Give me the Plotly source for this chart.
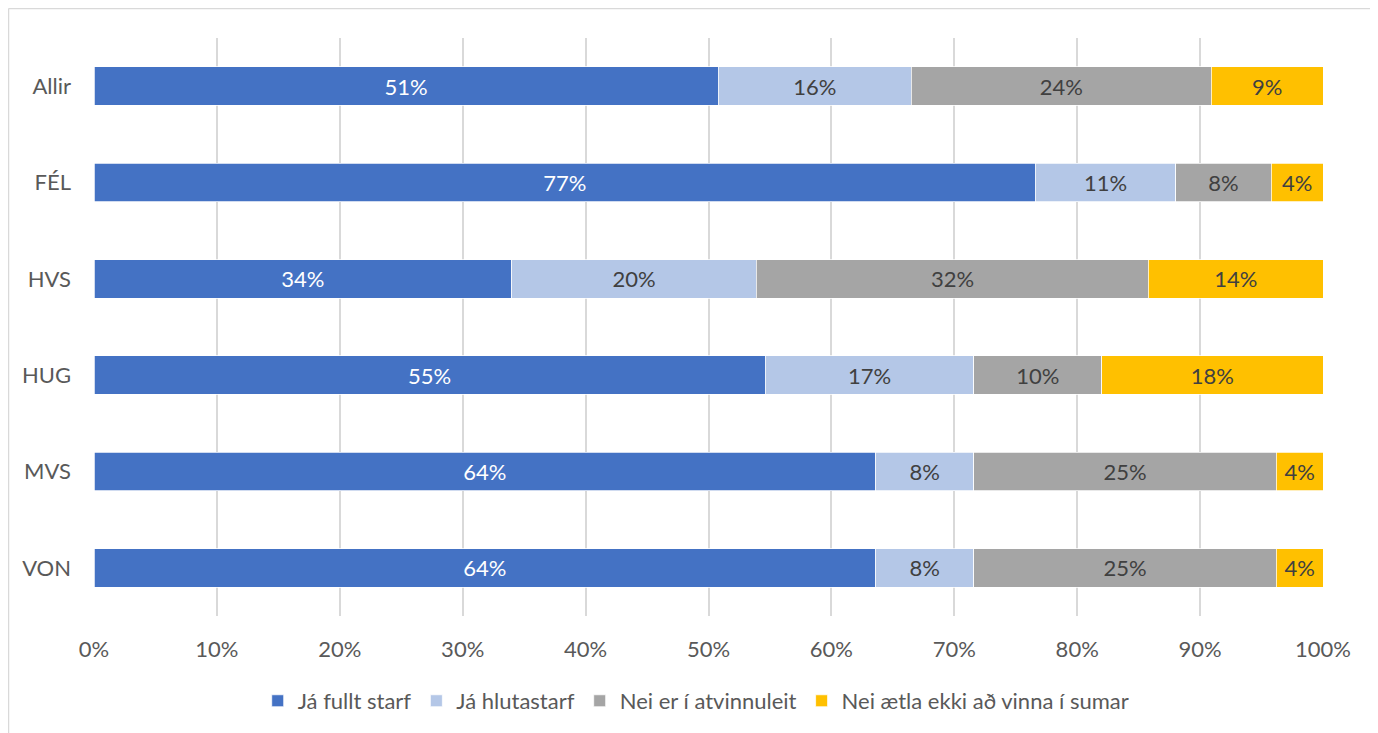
import plotly.graph_objects as go

# categories top to bottom
groups = ["Allir", "FÉL", "HVS", "HUG", "MVS", "VON"]

series_names = ["Já fullt starf", "Já hlutastarf", "Nei er í atvinnuleit", "Nei ætla ekki að vinna í sumar"]
fullt = [50.8, 76.6, 34.0, 54.6, 63.6, 63.6]
hluta = [15.7, 11.4, 19.9, 17.0, 8.0, 8.0]
atvinnuleit = [24.4, 7.8, 31.9, 10.4, 24.6, 24.6]
ekki = [9.1, 4.2, 14.2, 18.0, 3.8, 3.8]

tick_vals = [0, 10, 20, 30, 40, 50, 60, 70, 80, 90, 100]
tick_text = ["0%", "10%", "20%", "30%", "40%", "50%", "60%", "70%", "80%", "90%", "100%"]

colors = ["#4472C4", "#B4C7E7", "#A5A5A5", "#FFC000"]
label_colors = ["#FFFFFF", "#404040", "#404040", "#404040"]

fig = go.Figure()

for name, vals, col, lcol in zip(series_names, [fullt, hluta, atvinnuleit, ekki], colors, label_colors):
    fig.add_trace(
        go.Bar(
            x=vals,
            y=groups,
            name=name,
            orientation="h",
            marker={"color": col, "line": {"color": "#FFFFFF", "width": 0.75}},
            texttemplate="%{x:.0f}%",
            textposition="inside",
            insidetextanchor="middle",
            textangle=0,
            textfont={"color": lcol, "size": 22, "family": "Lato, sans-serif"},
        )
    )

# chart frame (only left and top edges are visible in the crop)
frame_x = (0.5 - 86) / 1229
frame_y = (609 - 0.5) / 579
fig.add_shape(type="line", xref="paper", yref="paper", x0=frame_x, x1=frame_x, y0=-1, y1=frame_y,
              line={"color": "#D9D9D9", "width": 1.5})
fig.add_shape(type="line", xref="paper", yref="paper", x0=frame_x, x1=2, y0=frame_y, y1=frame_y,
              line={"color": "#D9D9D9", "width": 1.5})

# page has an 8px body margin, so the figure is a little smaller than the window
fig.update_layout(
    width=1370,
    height=725,
    barmode="stack",
    bargap=0.6,
    margin={"l": 86, "r": 55, "t": 30, "b": 116},
    paper_bgcolor="#FFFFFF",
    plot_bgcolor="#FFFFFF",
    font={"family": "Lato, sans-serif", "size": 22, "color": "#595959"},
    showlegend=True,
    legend={
        "orientation": "h",
        "x": 0.49,
        "xanchor": "center",
        "y": -0.145,
        "yanchor": "middle",
        "font": {"size": 22, "color": "#595959"},
        "itemwidth": 30,
        "traceorder": "normal",
    },
)

fig.update_xaxes(
    range=[0, 100],
    tickvals=tick_vals,
    ticktext=tick_text,
    showgrid=True,
    gridcolor="#D9D9D9",
    gridwidth=1.5,
    zeroline=False,
    showline=False,
    ticks="",
    ticklabelstandoff=18,
    tickfont={"size": 22, "color": "#595959"},
)
fig.update_yaxes(
    autorange="reversed",
    showgrid=False,
    showline=False,
    ticks="",
    ticklabelstandoff=22,
    tickfont={"size": 22, "color": "#595959"},
)

fig.write_html("out.html")
